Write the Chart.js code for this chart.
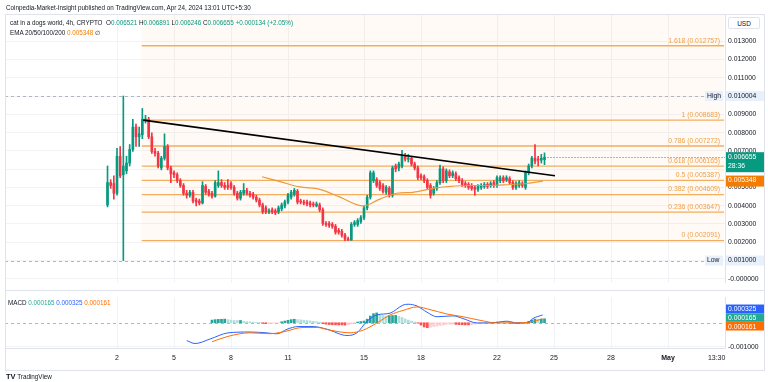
<!DOCTYPE html>
<html>
<head>
<meta charset="utf-8">
<script src="https://cdn.jsdelivr.net/npm/chart.js@4.4.1/dist/chart.umd.min.js"></script>
<style>
    body { margin: 0; background: #fff; width: 768px; height: 382px; overflow: hidden; position: relative; font-family: 'Liberation Sans', Arial, sans-serif; color: #131722; }
    .t { position: absolute; white-space: nowrap; font-size: 6.3px; line-height: 9px; }
    .up { color: #089981; }
    .ema { color: #f57c00; }
    #frame { position: absolute; left: 5px; top: 14px; width: 760px; height: 357px; border: 1px solid #e0e3eb; box-sizing: border-box; }
    #sep { position: absolute; left: 5px; top: 290px; width: 760px; height: 1px; background: #e0e3eb; }
    #usd { position: absolute; left: 728px; top: 17px; width: 32px; height: 12px; border: 1px solid #e0e3eb; border-radius: 2px; font-size: 6.5px; line-height: 12px; text-align: center; box-sizing: border-box; background: #fff; }
    #mainWrap { position: absolute; left: 0; top: 0; }
    #macdWrap { position: absolute; left: 0; top: 290px; }
</style>
</head>
<body>
<div id="mainWrap"><canvas id="mainChart" width="768" height="290"></canvas></div>
<div id="macdWrap"><canvas id="macdChart" width="768" height="80"></canvas></div>
<div id="frame"></div>
<div id="sep"></div>
<div id="usd">USD</div>
<div class="t" style="left:6px;top:3px;">Coinpedia-Market-Insight published on TradingView.com, Apr 24, 2024 13:01 UTC+5:30</div>
<div class="t" style="left:10px;top:18px;">cat in a dogs world, 4h, CRYPTO&nbsp; O<span class="up">0.006521</span> H<span class="up">0.006891</span> L<span class="up">0.006246</span> C<span class="up">0.006655</span> <span class="up">+0.000134 (+2.05%)</span></div>
<div class="t" style="left:10px;top:28px;">EMA 20/50/100/200 <span class="ema">0.005348</span> &#8709;</div>
<div class="t" style="left:8px;top:298px;">MACD <span style="color:#22ab94">0.000165</span> <span style="color:#2962ff">0.000325</span> <span style="color:#ff6d00">0.000161</span></div>
<div class="t" style="left:6px;top:372px;"><b style="font-size:7.5px">TV</b> TradingView</div>
<script>
// 4h candles, Apr 1 12:00 -> Apr 24 12:00 (x = day of April)
const candleDays = []
for (let i = 0; i < 139; i++) candleDays.push(1.5 + i / 6)

const opens = [0.004041,0.005267,0.005214,0.004681,0.006707,0.005694,0.005907,0.006334,0.007081,0.008307,
    0.007773,0.00788,0.00868,0.008734,0.007773,0.006974,0.006867,0.006067,0.006601,0.00724,
    0.006067,0.0058,0.005694,0.005374,0.005107,0.004681,0.004573,0.004734,0.004307,0.004254,
    0.004147,0.005054,0.004787,0.004681,0.00452,0.005107,0.005267,0.005107,0.005107,0.005214,
    0.005001,0.004681,0.004414,0.004681,0.004841,0.004681,0.004627,0.004467,0.004307,0.004041,
    0.003881,0.003667,0.003774,0.003721,0.003667,0.003827,0.003987,0.004201,0.004467,0.004627,
    0.004787,0.004254,0.004201,0.004201,0.004147,0.004094,0.003987,0.004041,0.003774,0.003027,
    0.003027,0.002973,0.002867,0.002654,0.0026,0.002387,0.002174,0.00212,0.002973,0.002973,
    0.003134,0.003347,0.003881,0.004467,0.005374,0.005427,0.005267,0.005107,0.004734,0.004947,
    0.004573,0.006174,0.006067,0.006174,0.006707,0.006547,0.006601,0.006281,0.006067,0.00564,
    0.005587,0.005374,0.005107,0.004681,0.004947,0.005267,0.006014,0.005374,0.005854,0.00564,
    0.005747,0.005534,0.005374,0.005214,0.005161,0.005107,0.005001,0.004894,0.005001,0.005054,
    0.005161,0.005107,0.005267,0.005107,0.005374,0.005534,0.005427,0.00548,0.005267,0.005001,
    0.005107,0.005214,0.005001,0.0058,0.006174,0.006601,0.006547,0.006494,0.006521]
const highs = [0.006174,0.005427,0.00564,0.007134,0.00724,0.010004,0.006707,0.007347,0.008734,0.008467,
    0.008307,0.00932,0.008947,0.00884,0.007987,0.007134,0.006974,0.006707,0.007934,0.007347,
    0.006174,0.005907,0.0058,0.00548,0.005214,0.004841,0.004841,0.004841,0.004414,0.004361,
    0.00532,0.005161,0.004894,0.004787,0.005374,0.005907,0.005427,0.005267,0.005427,0.00532,
    0.005107,0.004787,0.004841,0.005214,0.004947,0.004787,0.004734,0.004573,0.004414,0.004147,
    0.003987,0.003827,0.003881,0.003827,0.003987,0.004147,0.004307,0.004681,0.004841,0.004947,
    0.004894,0.004361,0.004307,0.004307,0.004254,0.004201,0.004201,0.004147,0.003881,0.003134,
    0.003134,0.00308,0.002973,0.00276,0.002707,0.002494,0.002281,0.00308,0.003187,0.003294,
    0.003454,0.003987,0.004573,0.005907,0.005907,0.005534,0.005374,0.005214,0.005107,0.005054,
    0.006174,0.006281,0.006387,0.007027,0.006867,0.006814,0.006707,0.006387,0.006174,0.005747,
    0.005694,0.00548,0.005214,0.005054,0.005374,0.006227,0.006121,0.006014,0.00596,0.005907,
    0.005854,0.00564,0.00548,0.00532,0.005267,0.005214,0.005107,0.005161,0.005214,0.005267,
    0.005267,0.00532,0.005374,0.00564,0.00564,0.00564,0.00564,0.005587,0.005374,0.00532,
    0.005374,0.00532,0.005907,0.006281,0.006707,0.007347,0.006707,0.006814,0.006891]
const lows = [0.003934,0.004947,0.004361,0.004573,0.005534,0.001,0.005747,0.006174,0.006974,0.00724,
    0.00724,0.007667,0.00852,0.007667,0.006867,0.006707,0.006067,0.00596,0.006494,0.00596,
    0.005267,0.005534,0.005267,0.005001,0.004573,0.004414,0.004467,0.004147,0.003987,0.004041,
    0.004094,0.004627,0.00452,0.004414,0.004467,0.005001,0.005001,0.004894,0.004894,0.004894,
    0.004573,0.004307,0.004307,0.004573,0.004573,0.004467,0.004361,0.004201,0.003934,0.00356,
    0.00356,0.00356,0.00356,0.003507,0.00356,0.003721,0.003881,0.004094,0.004361,0.00452,
    0.004094,0.004094,0.004041,0.003987,0.003934,0.003934,0.003934,0.003667,0.00292,0.002867,
    0.002814,0.00276,0.00244,0.00244,0.002281,0.002091,0.0021,0.0021,0.002867,0.002867,
    0.003027,0.00324,0.003774,0.004361,0.005267,0.005001,0.004841,0.004681,0.004627,0.004467,
    0.004467,0.005854,0.005907,0.006067,0.00644,0.006387,0.006174,0.00596,0.005427,0.005427,
    0.005267,0.004894,0.004414,0.004573,0.004841,0.005161,0.005267,0.005267,0.005534,0.005534,
    0.005374,0.005267,0.005054,0.005001,0.004894,0.004841,0.004573,0.004787,0.004894,0.004947,
    0.004947,0.005001,0.005001,0.005001,0.005267,0.005267,0.00532,0.005161,0.004894,0.004894,
    0.005001,0.005001,0.004894,0.005694,0.006067,0.006281,0.006174,0.006334,0.006246]
const closes = [0.005267,0.005107,0.004681,0.006707,0.00564,0.006174,0.006334,0.007081,0.008307,0.007773,
    0.007934,0.008734,0.008734,0.007773,0.006974,0.006867,0.006174,0.006601,0.00724,0.006067,
    0.005747,0.005694,0.005374,0.005107,0.004681,0.004573,0.004734,0.004254,0.004201,0.004147,
    0.005107,0.004734,0.004627,0.00452,0.005267,0.005267,0.005107,0.005001,0.005001,0.005001,
    0.004681,0.004414,0.004734,0.004841,0.004681,0.004573,0.004467,0.004307,0.004041,0.003667,
    0.003667,0.003721,0.003667,0.003614,0.003881,0.004041,0.004201,0.004573,0.004734,0.004841,
    0.004201,0.004201,0.004147,0.004094,0.004041,0.004041,0.004094,0.003774,0.003027,0.002973,
    0.00292,0.002867,0.002547,0.002547,0.002387,0.002174,0.00212,0.002973,0.00308,0.003187,
    0.003347,0.003881,0.004467,0.0058,0.0058,0.005107,0.004947,0.004787,0.005001,0.004573,
    0.006067,0.006014,0.006281,0.006707,0.006547,0.006601,0.006281,0.006067,0.005534,0.005534,
    0.005374,0.005001,0.004573,0.004947,0.005267,0.006014,0.005374,0.005907,0.00564,0.0058,
    0.00548,0.005374,0.005161,0.005107,0.005001,0.004947,0.004894,0.005054,0.005107,0.005161,
    0.005054,0.005214,0.005107,0.005534,0.005534,0.005374,0.005534,0.005267,0.005001,0.005214,
    0.005267,0.005107,0.0058,0.006174,0.006601,0.00644,0.006494,0.006601,0.006655]

// EMA 50
const emaDays = [9.63, 10.58, 11.63, 12.68, 13.74, 14.95, 15.84, 16.74, 17.58, 18.63, 19.53, 20.58, 21.63, 22.68, 23.58, 24.42]
const emaValues = [0.005587, 0.00532, 0.005027, 0.004894, 0.004467, 0.003987, 0.004361, 0.004681, 0.004734, 0.004947, 0.005054, 0.005107, 0.005107, 0.005161, 0.005214, 0.005348]

// fibonacci retracement + trend line
const fibRatios = [0, 0.236, 0.382, 0.5, 0.618, 0.786, 1, 1.618]
const fibPrices = [0.002091, 0.003647, 0.004609, 0.005387, 0.006165, 0.007272, 0.008683, 0.012757]
const fibStartDay = 3.3
const fibEndDay = 33.95
const trendDays = [3.37, 25.05]
const trendValues = [0.008683, 0.00564]
const highPrice = 0.010004
const lowPrice = 0.001
const lastPrice = 0.006655
const lastEma = 0.005348

// MACD pane
const macdDays = [5.67, 6.11, 6.89, 7.84, 9.0, 9.89, 10.42, 10.95, 11.53, 12.32, 13.05, 14.11, 14.63, 15.16, 15.68, 16.37, 17.05, 17.32, 17.79, 18.32, 18.84, 19.68, 20.21, 20.95, 21.63, 22.53, 23.05, 23.58, 23.89, 24.4]
const macdValues = [-0.000746, -0.000869, -0.000683, -0.000425, -0.000388, -0.000425, -0.000463, -0.000272, -0.00016, -0.00016, -0.000272, -0.000534, -0.000422, 0.000063, 0.000325, 0.0004, 0.000735, 0.000772, 0.000698, 0.000437, 0.00025, 0.000287, 0.000175, -0.00001, -0.00001, 0.000063, -0.00001, -0.00001, 0.000175, 0.000325]
const signalDays = [7.0, 7.84, 9.0, 10.05, 10.74, 11.79, 12.53, 13.21, 14.26, 14.95, 15.68, 16.37, 17.05, 17.79, 18.47, 19.37, 20.21, 21.11, 22.0, 23.05, 23.74, 24.4]
const signalValues = [-0.000795, -0.000571, -0.000422, -0.000459, -0.000384, -0.000198, -0.000198, -0.00031, -0.000422, -0.00031, -0.00001, 0.000325, 0.000511, 0.00066, 0.000549, 0.000362, 0.00025, 0.0001, -0.00001, -0.00001, 0.000026, 0.000161]
const histStart = 33
const histValues = [0.00011,0.00013,0.00014,0.000145,0.00015,0.00013,0.00011,0.000095,0.00009,0.000095,
    0.00006,0.000045,0.000035,0.000025,0.000015,0.000005,-0.00003,-0.00004,-0.000035,-0.000025,
    -0.000015,-0.000005,0.00004,0.00007,0.0001,0.00013,0.000145,0.00013,0.00012,0.000105,
    0.00009,0.000075,0.00006,0.00004,0.00002,-0.00004,-0.00006,-0.000075,-0.000085,-0.00009,
    -0.000092,-0.000095,-0.0001,-0.00008,-0.00005,-0.00002,0.00003,0.00005,0.00007,0.00015,
    0.00028,0.00038,0.00041,0.00033,0.0003,0.00028,0.00029,0.0003,0.000305,0.00027,
    0.00022,0.00016,0.00011,0.00007,0.00003,-0.00002,-0.0001,-0.00018,-0.00021,-0.00019,
    -0.00016,-0.00014,-0.00012,-0.0001,-0.00007,-0.00006,-0.000055,-0.00007,-0.00008,-0.000085,
    -0.00009,-0.000092,-0.000085,-0.00006,-0.00004,-0.00003,-0.00002,-0.00001,0.00001,0.00002,
    0.000025,0.000015,0.00001,0.000005,-0.000015,-0.00003,-0.000035,-0.00004,-0.00003,-0.00001,
    0.00006,0.00011,0.00015,0.000145,0.000155,0.000165]
const lastMacd = 0.000325
const lastHist = 0.000165
const lastSignal = 0.000161

// axes
const priceTicks = [0, 0.001, 0.002, 0.003, 0.004, 0.005, 0.006, 0.007, 0.008, 0.009, 0.01, 0.011, 0.012, 0.013]
const timeTicks = [2, 5, 8, 11, 15, 18, 22, 25, 28, 31, 33.56]
const timeLabels = ['2', '5', '8', '11', '15', '18', '22', '25', '28', 'May', '13:30']
const xMin = -3.895
const xMax = 34.0

const UP = '#089981', DOWN = '#f23645', GRID = '#f2f3f6', FIB = '#f2ad5e'
const FONT = '"Liberation Sans", Arial, sans-serif'
const candleColors = closes.map((c, i) => c >= opens[i] ? UP : DOWN)

Chart.defaults.font.family = FONT

function box(ctx, x, y, w, h, bg, lines, color) {
    ctx.fillStyle = bg
    ctx.fillRect(x, y, w, h)
    ctx.fillStyle = color
    ctx.font = '6.8px ' + FONT
    ctx.textAlign = 'left'
    ctx.textBaseline = 'middle'
    lines.forEach((t, k) => ctx.fillText(t, x + 2, y + 5 + k * 9))
}

const mainOverlay = {
    id: 'mainOverlay',
    beforeDatasetsDraw(chart) {
        const { ctx, chartArea: a, scales: { x, y } } = chart
        ctx.save()
        // fib background
        const x0 = x.getPixelForValue(fibStartDay), x1 = x.getPixelForValue(fibEndDay)
        ctx.fillStyle = 'rgba(255,165,50,0.05)'
        ctx.fillRect(x0, a.top, x1 - x0, y.getPixelForValue(fibPrices[0]) - a.top)
        // high / low
        ctx.setLineDash([3, 3])
        ctx.strokeStyle = '#b2b5be'
        ctx.lineWidth = 1
        ;[highPrice, lowPrice].forEach(p => {
            const yy = Math.round(y.getPixelForValue(p)) + 0.5
            ctx.beginPath(); ctx.moveTo(a.left, yy); ctx.lineTo(a.right, yy); ctx.stroke()
        })
        // last price, from the last candle to the axis
        ctx.setLineDash([1, 2])
        ctx.strokeStyle = UP
        const yl = Math.round(y.getPixelForValue(lastPrice)) + 0.5
        ctx.beginPath(); ctx.moveTo(x.getPixelForValue(candleDays[candleDays.length - 1]), yl); ctx.lineTo(a.right, yl); ctx.stroke()
        ctx.restore()
    },
    afterDatasetsDraw(chart) {
        const { ctx, scales: { x, y } } = chart
        ctx.save()
        ctx.font = '6.8px ' + FONT
        ctx.fillStyle = '#eea04a'
        ctx.textAlign = 'right'
        ctx.textBaseline = 'middle'
        const xr = x.getPixelForValue(fibEndDay) - 4
        fibRatios.forEach((r, k) => {
            ctx.fillText(r + ' (' + fibPrices[k].toFixed(6) + ')', xr, y.getPixelForValue(fibPrices[k]) - 5)
        })
        ctx.restore()
    },
    afterDraw(chart) {
        const { ctx, chartArea: a, scales: { y } } = chart
        ctx.save()
        const yh = y.getPixelForValue(highPrice), ylo = y.getPixelForValue(lowPrice)
        box(ctx, a.right - 20, yh - 5, 18, 10, '#e8f0fc', ['High'], '#131722')
        box(ctx, a.right + 1, yh - 5, 38, 10, '#e8f0fc', [highPrice.toFixed(6)], '#131722')
        box(ctx, a.right - 20, ylo - 5, 18, 10, '#e8f0fc', ['Low'], '#131722')
        box(ctx, a.right + 1, ylo - 5, 38, 10, '#e8f0fc', [lowPrice.toFixed(6)], '#131722')
        const yp = y.getPixelForValue(lastPrice)
        box(ctx, a.right + 1, yp - 5, 38, 20, UP, [lastPrice.toFixed(6), '28:36'], '#fff')
        const ye = y.getPixelForValue(lastEma)
        box(ctx, a.right + 1, ye - 5.5, 38, 11, '#f57c00', [lastEma.toFixed(6)], '#fff')
        ctx.restore()
    }
}

new Chart(document.getElementById('mainChart'), {
    type: 'bar',
    data: {
        datasets: [
            ...fibPrices.map(p => ({
                type: 'line', data: [{ x: fibStartDay, y: p }, { x: fibEndDay, y: p }],
                borderColor: FIB, borderWidth: 1.4, pointRadius: 0, order: 9
            })),
            {
                data: candleDays.map((d, i) => ({ x: d, y: [lows[i], highs[i]] })),
                backgroundColor: candleColors, barThickness: 1, grouped: false, order: 6
            },
            {
                data: candleDays.map((d, i) => ({ x: d, y: [opens[i], closes[i]] })),
                backgroundColor: candleColors, barThickness: 2, minBarLength: 1, grouped: false, order: 5
            },
            {
                type: 'line', data: emaDays.map((d, i) => ({ x: d, y: emaValues[i] })),
                borderColor: '#ec9a3c', borderWidth: 1.2, pointRadius: 0, cubicInterpolationMode: 'monotone', order: 3
            },
            {
                type: 'line', data: trendDays.map((d, i) => ({ x: d, y: trendValues[i] })),
                borderColor: '#000', borderWidth: 1.6, pointRadius: 0, order: 1
            }
        ]
    },
    options: {
        responsive: false,
        animation: false,
        layout: { padding: { left: 5, top: 14, right: 0, bottom: 0 } },
        plugins: { legend: { display: false }, tooltip: { enabled: false } },
        scales: {
            x: {
                type: 'linear', min: xMin, max: xMax, offset: false,
                afterBuildTicks: s => { s.ticks = timeTicks.slice(0, 10).map(v => ({ value: v })) },
                afterFit: s => { s.height = 0 },
                ticks: { display: false },
                grid: { color: GRID, drawTicks: false, offset: false },
                border: { display: false }
            },
            y: {
                position: 'right', min: -0.0002267, max: 0.0144933,
                afterBuildTicks: s => { s.ticks = priceTicks.map(v => ({ value: v })) },
                afterFit: s => { s.width = 43 },
                ticks: {
                    padding: 3, color: '#131722', font: { size: 6.8 },
                    callback: v => v === 0 ? '-0.000000' : v.toFixed(6)
                },
                grid: { color: GRID, drawTicks: false },
                border: { display: true, color: '#e0e3eb' }
            }
        }
    },
    plugins: [mainOverlay]
})

const histColors = histValues.map((v, k) => {
    const prev = k > 0 ? histValues[k - 1] : v
    if (v >= 0) return v >= prev ? '#26a69a' : '#b2dfdb'
    return v <= prev ? '#ff5252' : '#ffcdd2'
})

const macdOverlay = {
    id: 'macdOverlay',
    beforeDatasetsDraw(chart) {
        const { ctx, chartArea: a, scales: { y } } = chart
        ctx.save()
        ctx.setLineDash([3, 3])
        ctx.strokeStyle = '#b2b5be'
        ctx.lineWidth = 1
        const yz = Math.round(y.getPixelForValue(0)) + 0.5
        ctx.beginPath(); ctx.moveTo(a.left, yz); ctx.lineTo(a.right, yz); ctx.stroke()
        ctx.restore()
    },
    afterDraw(chart) {
        const { ctx, chartArea: a, scales: { y } } = chart
        ctx.save()
        const vals = [[lastMacd, '#2962ff'], [lastHist, '#22ab94'], [lastSignal, '#ff6d00']]
        const mid = vals.reduce((s, v) => s + y.getPixelForValue(v[0]), 0) / vals.length
        vals.forEach((v, k) => box(ctx, a.right + 1, mid + (k - 1) * 8.7 - 4.3, 38, 8.6, v[1], [v[0].toFixed(6)], '#fff'))
        ctx.restore()
    }
}

new Chart(document.getElementById('macdChart'), {
    type: 'bar',
    data: {
        datasets: [
            {
                data: histValues.map((v, k) => ({ x: candleDays[histStart + k], y: v })),
                backgroundColor: histColors, barThickness: 2, grouped: false, order: 5
            },
            {
                type: 'line', data: macdDays.map((d, i) => ({ x: d, y: macdValues[i] })),
                borderColor: '#2962ff', borderWidth: 1, pointRadius: 0, cubicInterpolationMode: 'monotone', order: 2
            },
            {
                type: 'line', data: signalDays.map((d, i) => ({ x: d, y: signalValues[i] })),
                borderColor: '#ff6d00', borderWidth: 1, pointRadius: 0, cubicInterpolationMode: 'monotone', order: 1
            }
        ]
    },
    options: {
        responsive: false,
        animation: false,
        layout: { padding: { left: 5, top: 2, right: 0, bottom: 0 } },
        plugins: { legend: { display: false }, tooltip: { enabled: false } },
        scales: {
            x: {
                type: 'linear', min: xMin, max: xMax, offset: false,
                afterBuildTicks: s => { s.ticks = timeTicks.map(v => ({ value: v })) },
                afterFit: s => { s.height = 22 },
                ticks: {
                    autoSkip: false, maxRotation: 0, padding: 6, color: '#131722',
                    font: c => ({ size: 7, weight: timeLabels[c.index] === 'May' ? 'bold' : 'normal' }),
                    callback: (v, i) => timeLabels[i]
                },
                grid: { color: c => c.index === timeTicks.length - 1 ? 'rgba(0,0,0,0)' : GRID, drawTicks: false, offset: false },
                border: { display: true, color: '#e0e3eb' }
            },
            y: {
                position: 'right', min: -0.001056, max: 0.001071,
                afterBuildTicks: s => { s.ticks = [{ value: -0.001 }] },
                afterFit: s => { s.width = 43 },
                ticks: { padding: 3, color: '#131722', font: { size: 6.8 }, callback: v => v.toFixed(6) },
                grid: { color: GRID, drawTicks: false },
                border: { display: true, color: '#e0e3eb' }
            }
        }
    },
    plugins: [macdOverlay]
})
</script>
</body>
</html>
